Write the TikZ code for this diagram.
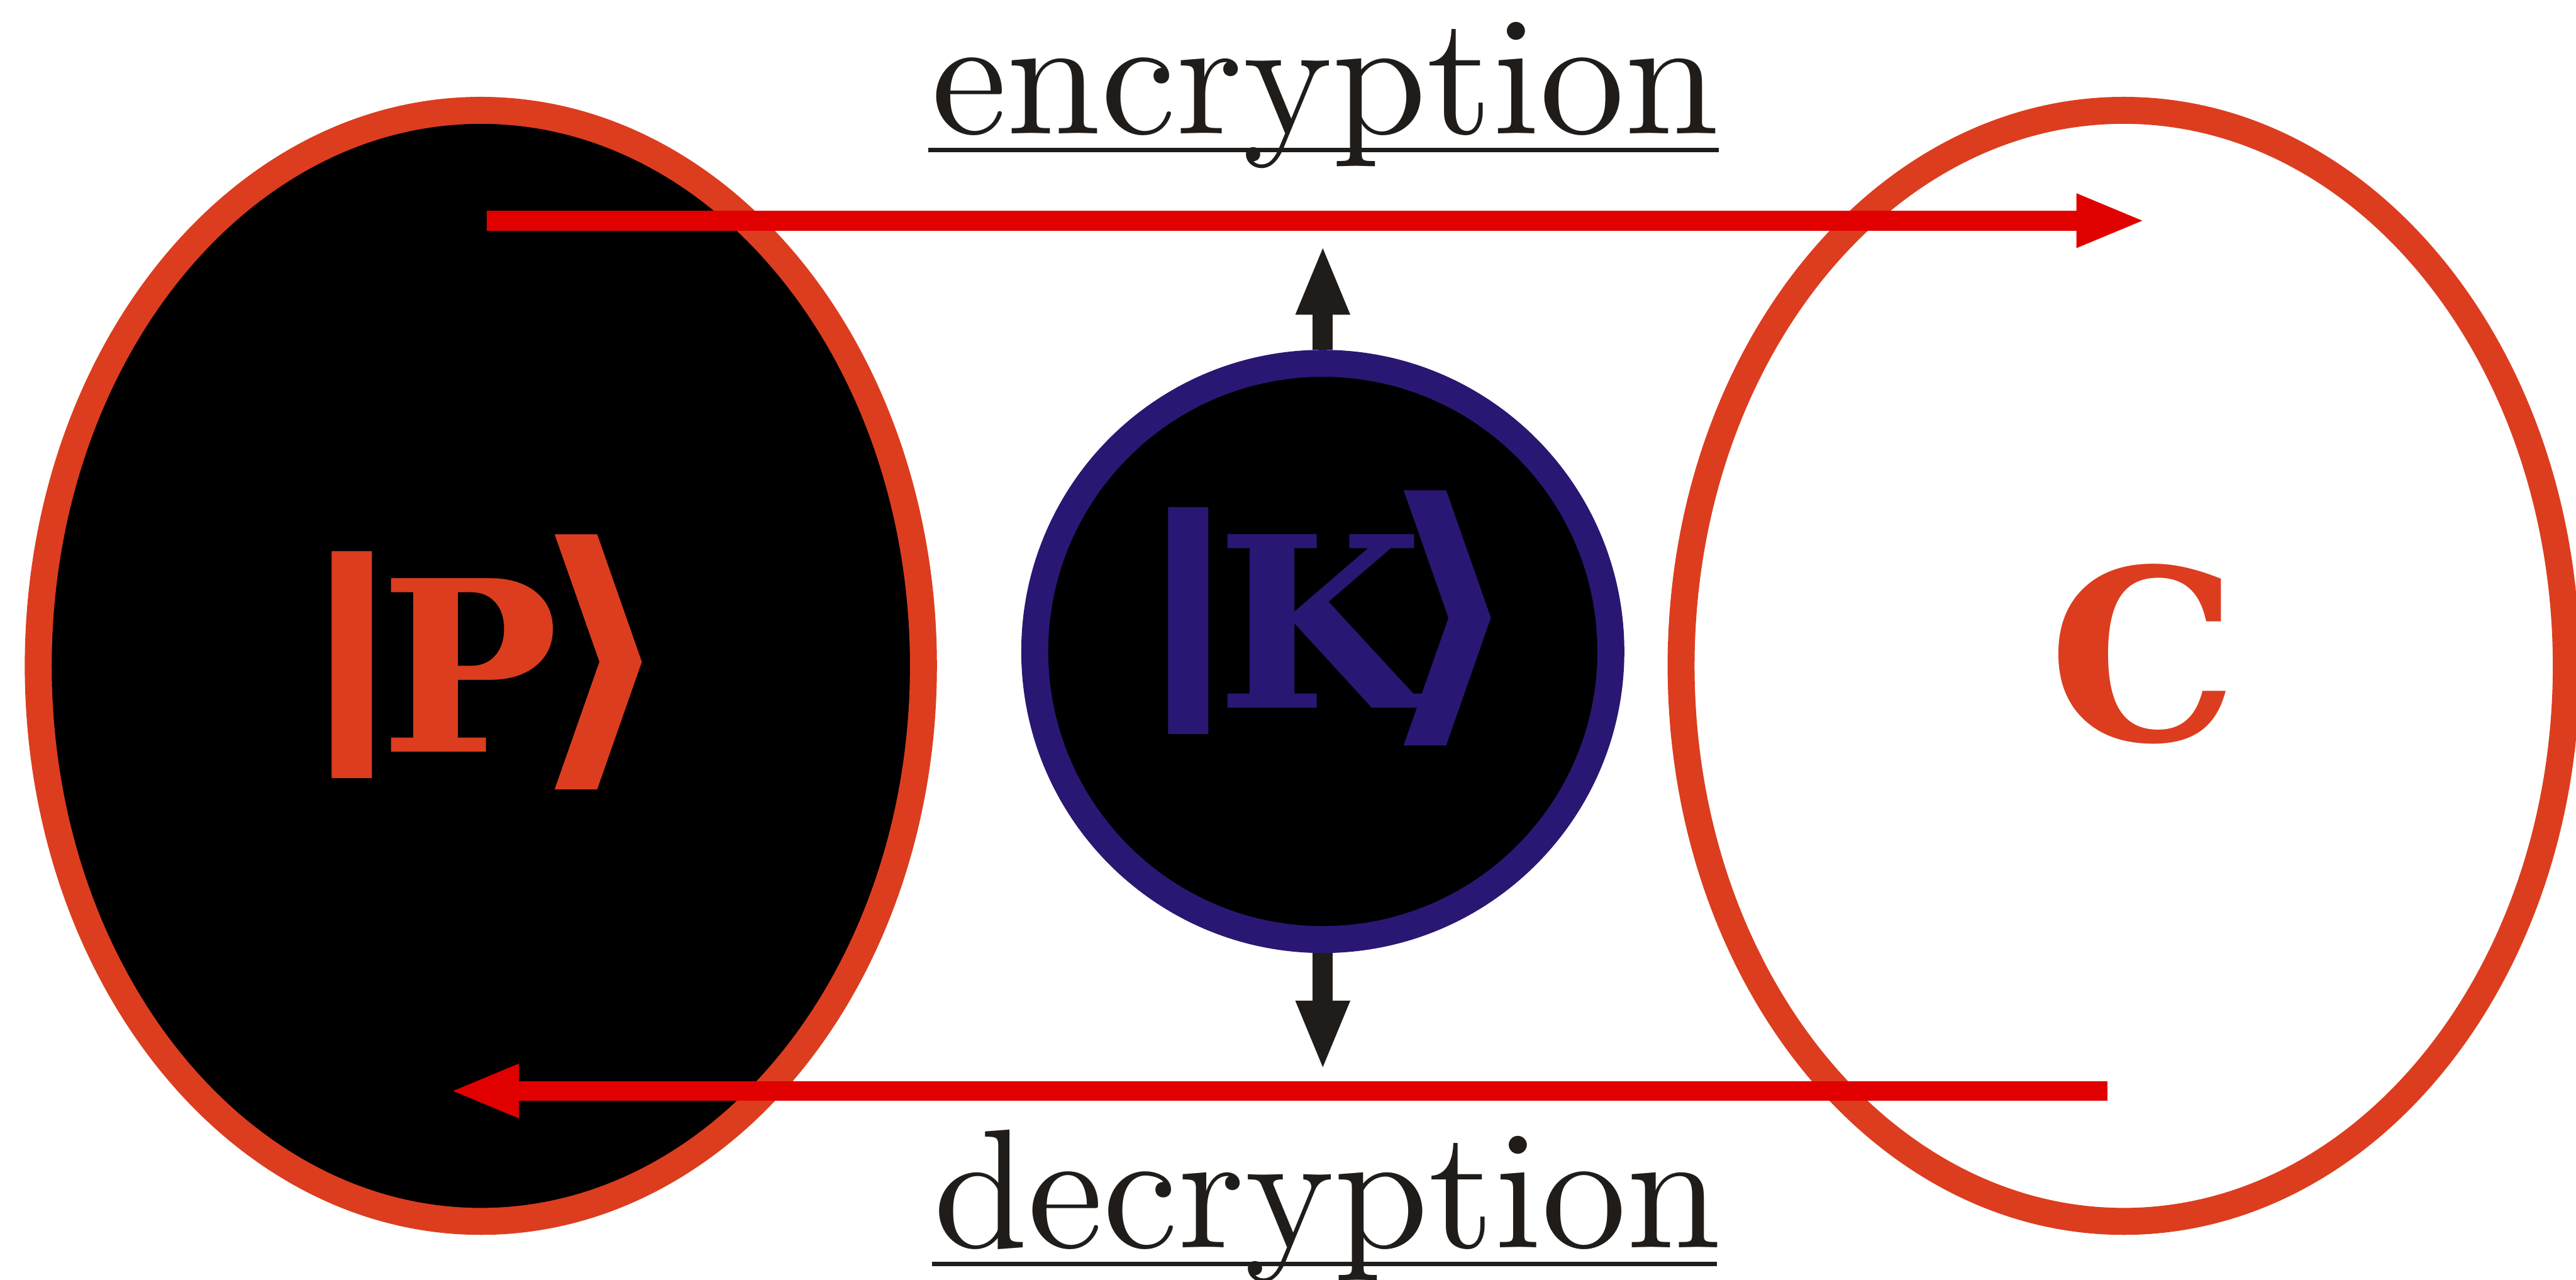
\documentclass[tikz,border=0pt]{standalone}
\usepackage{fontspec}
\usetikzlibrary{arrows.meta,shapes.geometric}

\newfontfamily\glyphfont{DejaVu Serif}
\newfontfamily\bracketfont{DejaVu Sans}
\newfontfamily\labelfont{lmroman10-regular.otf}

\definecolor{ringred}{RGB}{220,61,31}
\definecolor{arrowred}{RGB}{225,0,0}
\definecolor{keyblue}{RGB}{42,23,115}
\definecolor{inkblack}{RGB}{32,28,25}

% ket: bar, letter, angle bracket (optional kern before the bracket)
\newcommand{\ketstate}[2][-5mm]{%
  {\bracketfont\bfseries\fontsize{103}{103}\selectfont\scalebox{1.6}[1]{\raisebox{4.3mm}{|}}}%
  \hspace{-6.1mm}{\glyphfont\bfseries\fontsize{108}{108}\selectfont #2}%
  \hspace{#1}{\bracketfont\bfseries\fontsize{130}{130}\selectfont\scalebox{1.12}[1]{⟩}}}

\begin{document}
\begin{tikzpicture}[
  ring/.style={ellipse, line width=0.43cm, draw=ringred, inner sep=0pt, outer sep=0pt,
    minimum width=14.12cm, minimum height=17.72cm},
  redarrow/.style={arrowred, line width=0.32cm, -{Triangle[length=1.11cm,width=0.78cm]}},
  keyarrow/.style={inkblack, line width=0.32cm, -{Triangle[length=1.12cm,width=0.78cm]}},
  uline/.style={inkblack, line width=0.07cm},
  label/.style={font=\labelfont\fontsize{77}{80}\selectfont, text=inkblack, inner sep=0pt, anchor=base},
  glyph/.style={inner sep=0pt, anchor=base west}
]
\useasboundingbox (0,0) rectangle (41.09,20.41);

% plaintext and ciphertext
\node[ring, fill=black] (plain) at (7.67,9.79) {};
\node[ring, fill=white] (cipher) at (33.875,9.79) {};

% key
\node[circle, draw=keyblue, fill=black, line width=0.43cm, inner sep=0pt, minimum size=9.19cm] (key) at (21.1,10.02) {};
\coordinate (keytop) at (21.1,16.51);
\coordinate (keybot) at (21.1,3.33);
\draw[keyarrow] (key.north) -- (keytop);
\draw[keyarrow] (key.south) -- (keybot);

\node[glyph, text=ringred] (pket) at (4.55,8.42) {\ketstate[-4.8mm]{P}};
\node[glyph, text=keyblue] (kket) at (17.89,9.12) {\ketstate[-7.2mm]{K}};
\node[glyph, anchor=base, text=ringred, font=\glyphfont\bfseries\fontsize{108}{108}\selectfont] (ctext) at (34.19,8.60) {C};

% encryption / decryption
\coordinate (encstart) at (7.76,16.89);
\coordinate (encend) at (34.23,16.89);
\draw[redarrow] (encstart) -- (encend);
\coordinate (decstart) at (33.62,3.01);
\coordinate (decend) at (7.17,3.01);
\draw[redarrow] (decstart) -- (decend);

\node[label] (enc) at (21.14,18.28) {encryption};
\draw[uline] (14.81,18.015) -- (27.42,18.015);
\node[label] (dec) at (21.17,0.51) {decryption};
\draw[uline] (14.87,0.255) -- (27.39,0.255);
\end{tikzpicture}
\end{document}
